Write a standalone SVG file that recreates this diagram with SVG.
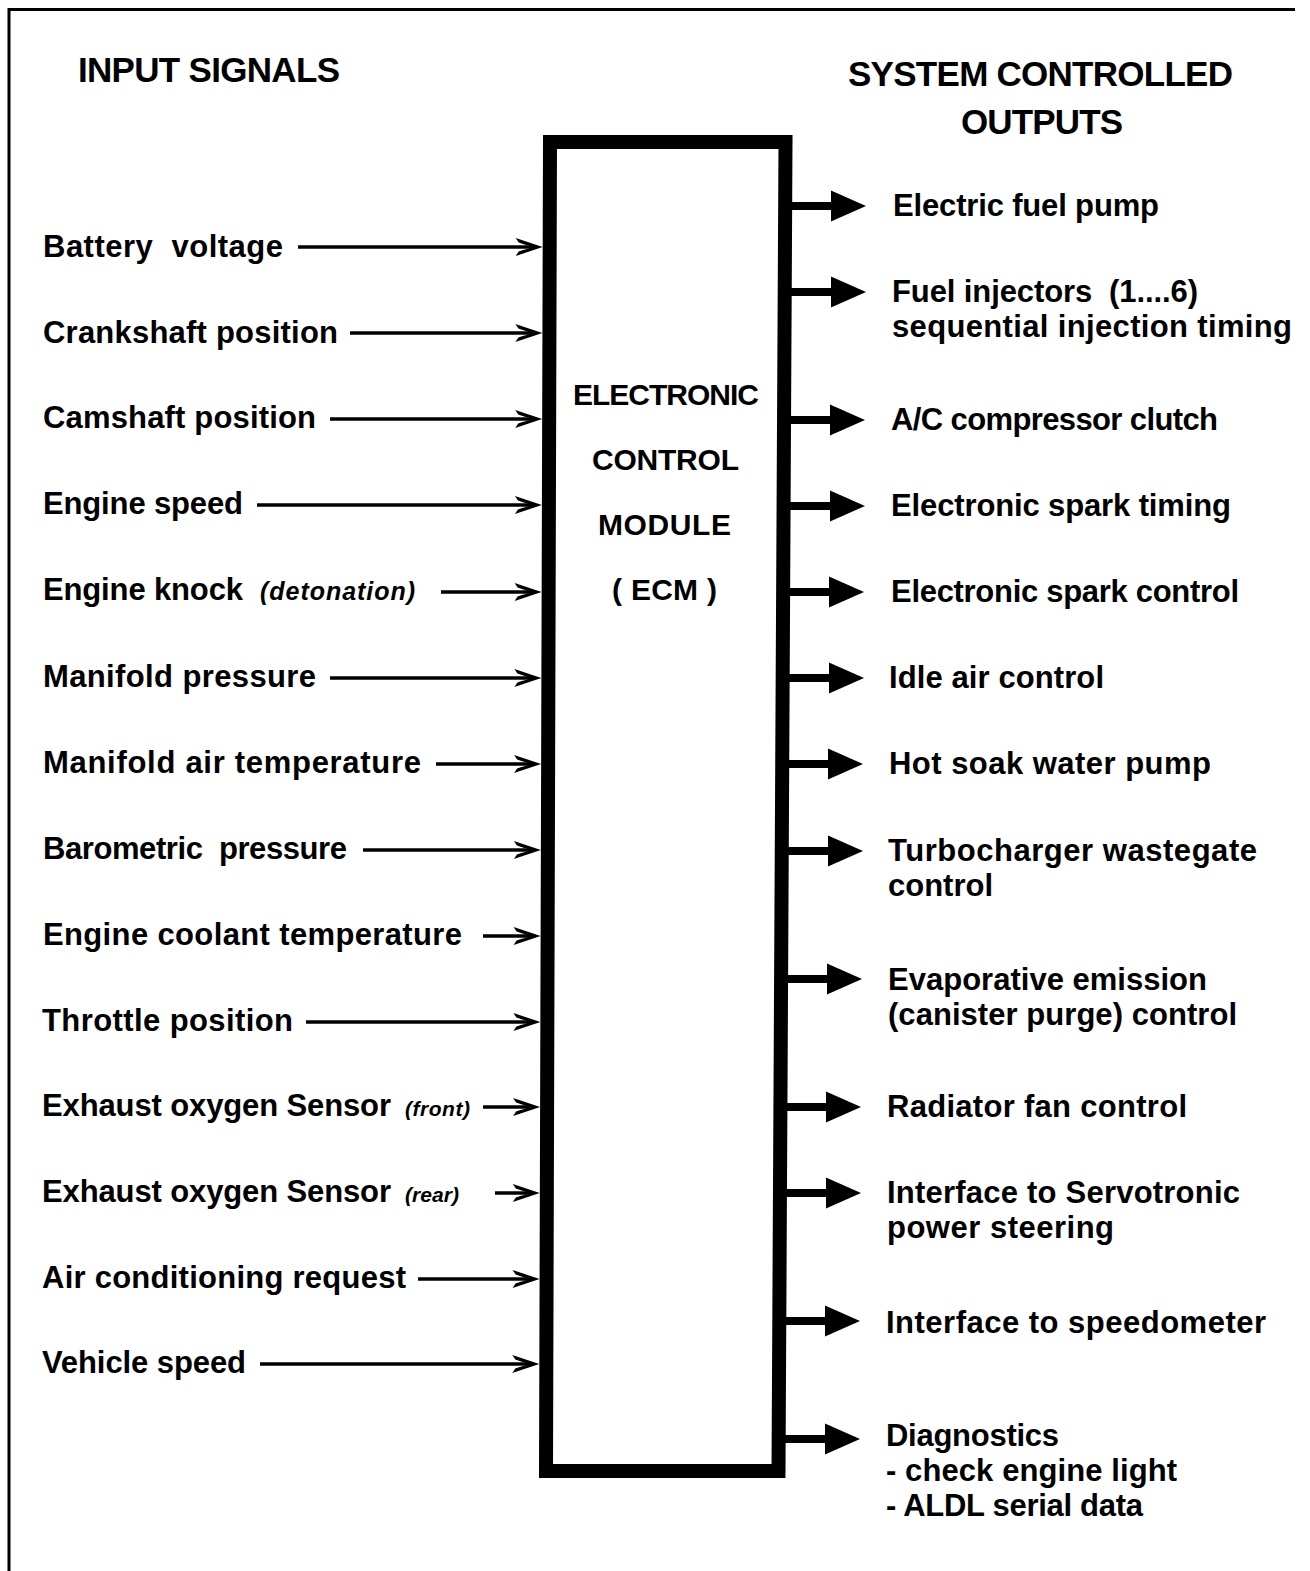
<svg xmlns="http://www.w3.org/2000/svg" width="1310" height="1571" viewBox="0 0 1310 1571">
<style>
text{font-family:"Liberation Sans",Arial,sans-serif;font-weight:bold;fill:#000}
.lbl{font-size:31px}
.hdr{font-size:35px}
.ecm{font-size:30px}
.it{font-style:italic;font-size:25px}
.its{font-style:italic;font-size:21px}
.in{stroke:#000;stroke-width:3.5;fill:none}
.out{stroke:#000;stroke-width:8;fill:none}
.frame{stroke:#000;stroke-width:3;fill:none}
</style>
<defs>
<path id="ih" d="M0,0 L-27,-9 L-24,-4.5 Q-15,-1.5 -9,0 Q-15,1.5 -24,4.5 L-27,9 Z" fill="#000"/>
<path id="oh" d="M0,0 L-35,-15.5 L-35,15.5 Z" fill="#000"/>
</defs>
<rect width="1310" height="1571" fill="#fff"/>
<g id="frame">
<path class="frame" d="M9,1571 L9,9.5 L1295,9.5"/>
</g>
<g id="headers">
<text class="hdr" x="78" y="82" textLength="262">INPUT SIGNALS</text>
<text class="hdr" x="848" y="86" textLength="385">SYSTEM CONTROLLED</text>
<text class="hdr" x="961" y="134" textLength="162">OUTPUTS</text>
</g>
<g id="ecm">
<path d="M550,142 L785.5,142 L778.5,1471 L546,1471 Z" fill="none" stroke="#000" stroke-width="14" stroke-linejoin="miter"/>
<text class="ecm" x="573" y="405" textLength="186">ELECTRONIC</text>
<text class="ecm" x="592" y="470" textLength="147">CONTROL</text>
<text class="ecm" x="598" y="535" textLength="133">MODULE</text>
<text class="ecm" x="612" y="600" textLength="105" xml:space="preserve">( ECM )</text>
</g>
<g id="inputs">
<g id="in-battery"><text class="lbl" x="43" y="257" textLength="240" xml:space="preserve">Battery  voltage</text></g>
<g id="in-crank"><text class="lbl" x="43" y="343" textLength="295">Crankshaft position</text></g>
<g id="in-cam"><text class="lbl" x="43" y="428" textLength="273">Camshaft position</text></g>
<g id="in-speed"><text class="lbl" x="43" y="514" textLength="200">Engine speed</text></g>
<g id="in-knock"><text class="lbl" x="43" y="600" textLength="200">Engine knock</text><text class="it" x="260" y="600" textLength="155">(detonation)</text></g>
<g id="in-map"><text class="lbl" x="43" y="687" textLength="273">Manifold pressure</text></g>
<g id="in-mat"><text class="lbl" x="43" y="773" textLength="378">Manifold air temperature</text></g>
<g id="in-baro"><text class="lbl" x="43" y="859" textLength="304" xml:space="preserve">Barometric  pressure</text></g>
<g id="in-ect"><text class="lbl" x="43" y="945" textLength="419">Engine coolant temperature</text></g>
<g id="in-tps"><text class="lbl" x="42" y="1031" textLength="251">Throttle position</text></g>
<g id="in-o2f"><text class="lbl" x="42" y="1116" textLength="349">Exhaust oxygen Sensor</text><text class="its" x="405" y="1116" textLength="65">(front)</text></g>
<g id="in-o2r"><text class="lbl" x="42" y="1202" textLength="349">Exhaust oxygen Sensor</text><text class="its" x="405" y="1202" textLength="54">(rear)</text></g>
<g id="in-ac"><text class="lbl" x="42" y="1288" textLength="364">Air conditioning request</text></g>
<g id="in-vss"><text class="lbl" x="42" y="1373" textLength="204">Vehicle speed</text></g>
</g>
<g id="outputs">
<g id="out-pump"><text class="lbl" x="893" y="216" textLength="266">Electric fuel pump</text></g>
<g id="out-inj"><text class="lbl" x="892" y="301.5" textLength="306" xml:space="preserve">Fuel injectors  (1....6)</text><text class="lbl" x="892" y="336.5" textLength="400">sequential injection timing</text></g>
<g id="out-ac"><text class="lbl" x="891" y="430" textLength="327">A/C compressor clutch</text></g>
<g id="out-est"><text class="lbl" x="891" y="516" textLength="340">Electronic spark timing</text></g>
<g id="out-esc"><text class="lbl" x="891" y="602" textLength="348">Electronic spark control</text></g>
<g id="out-iac"><text class="lbl" x="889" y="688" textLength="215">Idle air control</text></g>
<g id="out-hot"><text class="lbl" x="889" y="774" textLength="322">Hot soak water pump</text></g>
<g id="out-turbo"><text class="lbl" x="888" y="860.5" textLength="369">Turbocharger wastegate</text><text class="lbl" x="888" y="895.5" textLength="105">control</text></g>
<g id="out-evap"><text class="lbl" x="888" y="989.5" textLength="319">Evaporative emission</text><text class="lbl" x="888" y="1024.5" textLength="349">(canister purge) control</text></g>
<g id="out-fan"><text class="lbl" x="887" y="1117" textLength="300">Radiator fan control</text></g>
<g id="out-servo"><text class="lbl" x="887" y="1202.5" textLength="353">Interface to Servotronic</text><text class="lbl" x="887" y="1237.5" textLength="227">power steering</text></g>
<g id="out-speedo"><text class="lbl" x="886" y="1333" textLength="380">Interface to speedometer</text></g>
<g id="out-diag"><text class="lbl" x="886" y="1446" textLength="173">Diagnostics</text><text class="lbl" x="886" y="1481" textLength="291">- check engine light</text><text class="lbl" x="886" y="1516" textLength="257">- ALDL serial data</text></g>
</g>
<g id="connectors">
<line class="in" x1="298" y1="247" x2="536" y2="247"/><use href="#ih" x="542.7" y="247"/>
<line class="in" x1="350" y1="333" x2="536" y2="333"/><use href="#ih" x="542.4" y="333"/>
<line class="in" x1="330" y1="419" x2="536" y2="419"/><use href="#ih" x="542.2" y="419"/>
<line class="in" x1="257" y1="505" x2="535" y2="505"/><use href="#ih" x="541.9" y="505"/>
<line class="in" x1="441" y1="592" x2="535" y2="592"/><use href="#ih" x="541.6" y="592"/>
<line class="in" x1="330" y1="678" x2="535" y2="678"/><use href="#ih" x="541.4" y="678"/>
<line class="in" x1="436" y1="764" x2="535" y2="764"/><use href="#ih" x="541.1" y="764"/>
<line class="in" x1="363" y1="850" x2="534" y2="850"/><use href="#ih" x="540.9" y="850"/>
<line class="in" x1="483" y1="936" x2="534" y2="936"/><use href="#ih" x="540.6" y="936"/>
<line class="in" x1="306" y1="1022" x2="534" y2="1022"/><use href="#ih" x="540.4" y="1022"/>
<line class="in" x1="483" y1="1107" x2="534" y2="1107"/><use href="#ih" x="540.1" y="1107"/>
<line class="in" x1="495" y1="1193" x2="533" y2="1193"/><use href="#ih" x="539.8" y="1193"/>
<line class="in" x1="418" y1="1279" x2="533" y2="1279"/><use href="#ih" x="539.6" y="1279"/>
<line class="in" x1="260" y1="1364" x2="533" y2="1364"/><use href="#ih" x="539.3" y="1364"/>

<line class="out" x1="785" y1="206" x2="834" y2="206"/><use href="#oh" x="866" y="206"/>
<line class="out" x1="785" y1="292" x2="834" y2="292"/><use href="#oh" x="866" y="292"/>
<line class="out" x1="784" y1="420" x2="833" y2="420"/><use href="#oh" x="865" y="420"/>
<line class="out" x1="784" y1="506" x2="833" y2="506"/><use href="#oh" x="865" y="506"/>
<line class="out" x1="783" y1="592" x2="832" y2="592"/><use href="#oh" x="864" y="592"/>
<line class="out" x1="783" y1="678" x2="832" y2="678"/><use href="#oh" x="864" y="678"/>
<line class="out" x1="782" y1="764" x2="831" y2="764"/><use href="#oh" x="863" y="764"/>
<line class="out" x1="782" y1="851" x2="831" y2="851"/><use href="#oh" x="863" y="851"/>
<line class="out" x1="781" y1="979" x2="830" y2="979"/><use href="#oh" x="862" y="979"/>
<line class="out" x1="780" y1="1107" x2="829" y2="1107"/><use href="#oh" x="861" y="1107"/>
<line class="out" x1="780" y1="1193" x2="829" y2="1193"/><use href="#oh" x="861" y="1193"/>
<line class="out" x1="779" y1="1321" x2="828" y2="1321"/><use href="#oh" x="860" y="1321"/>
<line class="out" x1="779" y1="1439" x2="828" y2="1439"/><use href="#oh" x="860" y="1439"/>
</g>
</svg>
